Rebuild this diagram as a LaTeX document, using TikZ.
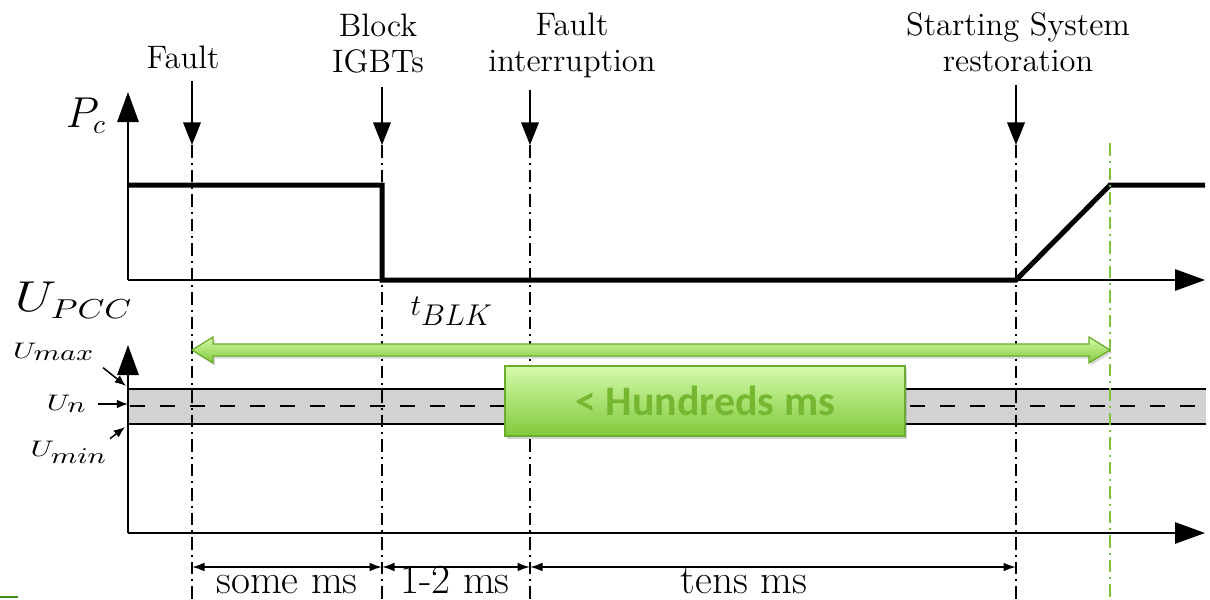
\documentclass[tikz,border=0pt]{standalone}
\usepackage{graphicx}
\usepackage{fontspec}
\newfontfamily\boxfont{Carlito}
\usetikzlibrary{arrows.meta,shadows}

\definecolor{arrowtop}{RGB}{212,250,170}
\definecolor{arrowbot}{RGB}{128,202,58}
\definecolor{arrowedge}{RGB}{108,172,45}
\definecolor{msgreen}{RGB}{118,183,50}
\definecolor{markgreen}{RGB}{125,195,60}
\definecolor{cornergreen}{RGB}{60,140,30}

\newcommand{\wide}[2][1.3]{\scalebox{#1}[1]{#2}}

\begin{document}
\begin{tikzpicture}[x=0.4pt, y=-0.4pt,
    axis/.style={line width=0.8pt, -{Triangle[length=12pt,width=8.5pt]}},
    signal/.style={line width=2pt},
    event/.style={line width=0.6pt, dash pattern=on 5pt off 2pt on 0.8pt off 2pt},
    evarrow/.style={line width=0.7pt, -{Triangle[length=9pt,width=7pt]}},
    evlabel/.style={font=\fontsize{13}{14.4}\selectfont, align=center, inner sep=5pt},
    span/.style={line width=0.7pt, {Latex[length=5pt,width=3.5pt]}-{Latex[length=5pt,width=3.5pt]}},
    spanlabel/.style={font=\fontsize{16.5}{18}\selectfont, anchor=base, inner sep=0pt},
    ulabel/.style={font=\fontsize{9}{10}\selectfont, inner sep=0pt},
    uarrow/.style={line width=0.6pt, -{Latex[length=4.5pt,width=3.5pt]}},
    greenarrow/.style={draw=arrowedge, line width=0.5pt, top color=arrowtop, bottom color=arrowbot,
        drop shadow={opacity=0.3, shadow xshift=0.8pt, shadow yshift=-1pt}},
    hbox/.style={draw=arrowedge, line width=0.5pt, top color=arrowtop, bottom color=arrowbot,
        minimum width=160pt, minimum height=28pt, inner sep=0pt, text=msgreen,
        font=\boxfont\bfseries\fontsize{16.8}{18}\selectfont,
        drop shadow={opacity=0.35, shadow xshift=0.8pt, shadow yshift=-1.2pt}}]
    \def\xF{192} \def\xB{382} \def\xI{530} \def\xR{1016} \def\xE{1110}
    \useasboundingbox (0,0) rectangle (1210,599);

    % origins of the two time axes
    \coordinate (O1) at (128,280);
    \coordinate (O2) at (128,533);

    % voltage band with nominal value
    \fill[gray!35] (128,389) rectangle (1206,424);
    \draw[line width=0.6pt] (128,389) -- (1206,389) (128,424) -- (1206,424);
    \draw[line width=0.6pt, dash pattern=on 6pt off 6pt] (130,406) -- (1206,406);

    % axes
    \draw[axis] (O1) -- (128,92);
    \draw[axis] (O1) -- (1205,280);
    \draw[axis] (O2) -- (128,345);
    \draw[axis] (O2) -- (1205,533);
    \node[font=\fontsize{16}{18}\selectfont, inner sep=0pt] (pc) at (86,116) {$P_c$};
    \node[font=\fontsize{16}{18}\selectfont, inner sep=0pt] (upcc) at (74,300) {\wide[1.25]{$U_{PCC}$}};

    % converter power
    \draw[signal] (128,185) -- (\xB,185) -- (\xB,280) -- (\xR,280) -- (\xE,185) -- (1205,185);
    \node[font=\fontsize{12}{14}\selectfont, inner sep=0pt] (tblk) at (452,311) {$t_{\textstyle BLK}$};

    % events
    \foreach \x in {\xF,\xB,\xI,\xR}
        \draw[event] (\x,145) -- (\x,599);
    \draw[event, markgreen, line width=1pt] (\xE,143) -- (\xE,599);

    \coordinate (tF) at (\xF,145);
    \coordinate (tB) at (\xB,145);
    \coordinate (tI) at (\xI,145);
    \coordinate (tR) at (\xR,145);
    \node[evlabel] (fault) at (183,57) {Fault};
    \node[evlabel] (block) at (378,44) {Block\\IGBTs};
    \node[evlabel] (interr) at (572,45) {Fault\\interruption};
    \node[evlabel] (restor) at (1018,42) {Starting System\\restoration};
    \draw[evarrow] (fault.south -| tF) -- (tF);
    \draw[evarrow] (block.south -| tB) -- (tB);
    \draw[evarrow] (interr.south -| tI) -- (tI);
    \draw[evarrow] (restor.south -| tR) -- (tR);

    % voltage limits
    \node[ulabel] (umax) at (54,352) {\wide{$U_{\textstyle max}$}};
    \node[ulabel] (un) at (67,404) {\wide{$U_{\textstyle n}$}};
    \node[ulabel] (umin) at (69,452) {\wide{$U_{\textstyle min}$}};
    \coordinate (umaxTip) at (126,386);
    \coordinate (uminTip) at (125,427);
    \draw[uarrow, shorten <=4pt] (umax.south east) -- (umaxTip);
    \draw[uarrow, shorten <=4pt] (un.east) -- (un.east -| O2);
    \draw[uarrow, shorten <=1pt] (umin.north east) -- (uminTip);

    % recovery time
    \coordinate (spanL) at (\xF,350);
    \coordinate (spanR) at (\xE,350);
    \path[greenarrow] (spanL) -- ++(21,-13) -- ++(0,7) -- ++(876,0) -- ++(0,-7) -- (spanR)
        -- ++(-21,13) -- ++(0,-7) -- ++(-876,0) -- ++(0,7) -- cycle;
    \node[hbox] (hund) at (705,401) {< Hundreds ms};

    % durations
    \draw[span] (\xF,567) -- (\xB,567);
    \draw[span] (\xB,567) -- (\xI,567);
    \draw[span] (\xI,567) -- (\xR,567);
    \node[spanlabel] (some) at (287,593) {some ms};
    \node[spanlabel] (onetwo) at (455,593) {1-2 ms};
    \node[spanlabel] (tens) at (744,593) {tens ms};

    \draw[cornergreen, line width=1pt] (0,597) -- (18,597);
\end{tikzpicture}
\end{document}
